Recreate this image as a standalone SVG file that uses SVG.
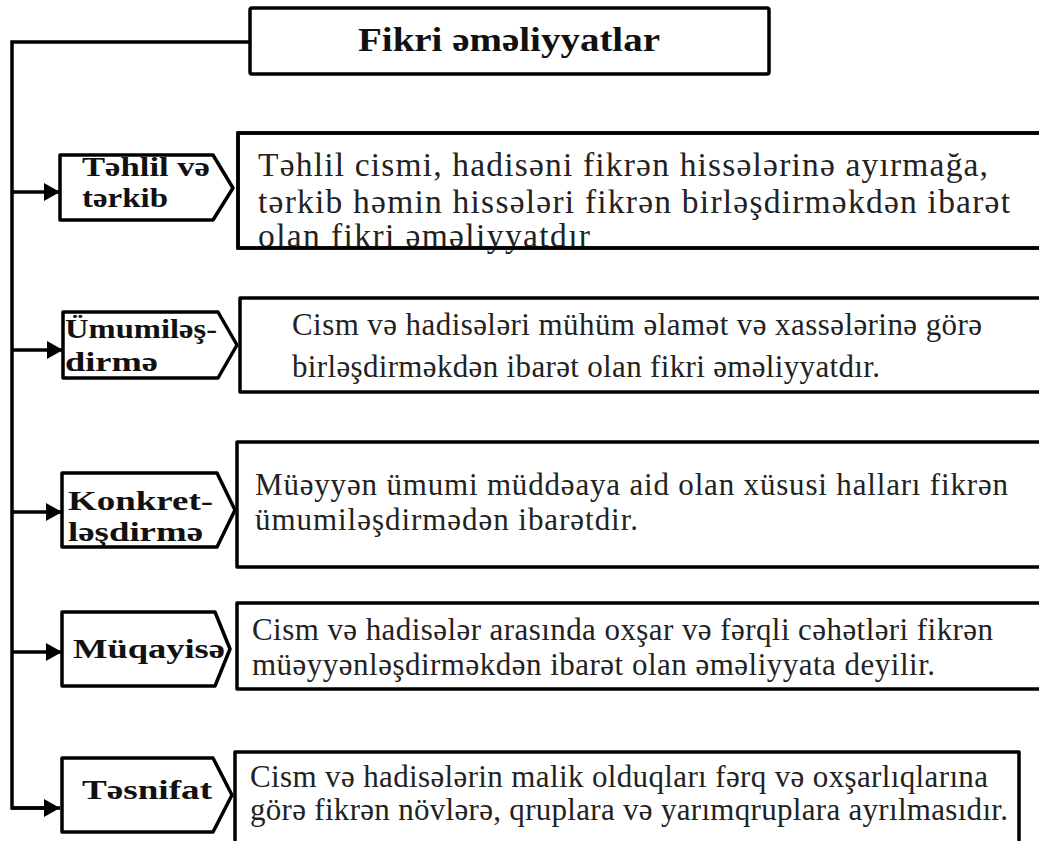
<svg xmlns="http://www.w3.org/2000/svg" width="1039" height="841" viewBox="0 0 1039 841">
<defs>
<marker id="ah" markerUnits="userSpaceOnUse" markerWidth="16" markerHeight="18" refX="16" refY="9" orient="auto">
<path d="M0,0 L16,9 L0,18 Z" fill="#000"/>
</marker>
<style>
.box{fill:#fff;stroke:#000;stroke-width:3.5;stroke-linejoin:round}
.edge{fill:none;stroke:#000;stroke-width:3.5}
.lbl{font-family:"Liberation Serif","Times New Roman",serif;font-weight:bold;font-size:28px;fill:#111}
.txt{font-family:"Liberation Serif","Times New Roman",serif;font-size:31px;fill:#222}
.big{font-size:33.5px}
.ttl{font-family:"Liberation Serif","Times New Roman",serif;font-weight:bold;font-size:34px;fill:#111}
.con{fill:none;stroke:#000;stroke-width:3.5}
</style>
</defs>
<rect width="1039" height="841" fill="#fff"/>
<g id="connectors">
<path class="con" d="M250,42 H12 V808 H46"/>
<line class="con" x1="12" y1="808" x2="60" y2="808" marker-end="url(#ah)"/>
<line class="con" x1="12" y1="192" x2="60" y2="192" marker-end="url(#ah)"/>
<line class="con" x1="12" y1="350" x2="63" y2="350" marker-end="url(#ah)"/>
<line class="con" x1="12" y1="512" x2="62" y2="512" marker-end="url(#ah)"/>
<line class="con" x1="12" y1="652" x2="62" y2="652" marker-end="url(#ah)"/>
</g>
<g id="title">
<rect class="box" x="250" y="8" width="519" height="66" rx="2"/>
<text class="ttl" x="358" y="51" textLength="302" lengthAdjust="spacingAndGlyphs">Fikri əməliyyatlar</text>
</g>
<g id="n1">
<path class="box" d="M60,155 H213 L233,188 L213,220 H60 Z"/>
<text class="lbl" x="82" y="176" textLength="128" lengthAdjust="spacingAndGlyphs">Təhlil və</text>
<text class="lbl" x="82" y="207" textLength="86" lengthAdjust="spacingAndGlyphs">tərkib</text>
</g>
<g id="d1">
<rect class="box" x="238" y="133" width="820" height="115"/>
<text class="txt big" x="258" y="176" textLength="730">Təhlil cismi, hadisəni fikrən hissələrinə ayırmağa,</text>
<text class="txt big" x="258" y="213" textLength="752">tərkib həmin hissələri fikrən birləşdirməkdən ibarət</text>
<text class="txt big" x="258" y="247" textLength="332">olan fikri əməliyyatdır</text>
<rect class="edge" x="238" y="133" width="820" height="115"/>
</g>
<g id="n2">
<path class="box" d="M63,312 H218 L237,345 L218,378 H63 Z"/>
<text class="lbl" x="65" y="338" textLength="152" lengthAdjust="spacingAndGlyphs">Ümumiləş-</text>
<text class="lbl" x="65" y="371" textLength="93" lengthAdjust="spacingAndGlyphs">dirmə</text>
</g>
<g id="d2">
<rect class="box" x="240" y="298" width="820" height="94"/>
<text class="txt" x="292" y="335" textLength="690">Cism və hadisələri mühüm əlamət və xassələrinə görə</text>
<text class="txt" x="292" y="377" textLength="588">birləşdirməkdən ibarət olan fikri əməliyyatdır.</text>
</g>
<g id="n3">
<path class="box" d="M62,473 H217 L235,510 L217,547 H62 Z"/>
<text class="lbl" x="68" y="510" textLength="145" lengthAdjust="spacingAndGlyphs">Konkret-</text>
<text class="lbl" x="68" y="541" textLength="135" lengthAdjust="spacingAndGlyphs">ləşdirmə</text>
</g>
<g id="d3">
<rect class="box" x="237" y="442" width="820" height="125"/>
<text class="txt" x="255" y="495" textLength="753">Müəyyən ümumi müddəaya aid olan xüsusi halları fikrən</text>
<text class="txt" x="255" y="530" textLength="383">ümumiləşdirmədən ibarətdir.</text>
</g>
<g id="n4">
<path class="box" d="M62,612 H215 L230,649 L215,686 H62 Z"/>
<text class="lbl" x="73" y="658" textLength="152" lengthAdjust="spacingAndGlyphs">Müqayisə</text>
</g>
<g id="d4">
<rect class="box" x="237" y="603" width="820" height="86"/>
<text class="txt" x="252" y="640" textLength="741">Cism və hadisələr arasında oxşar və fərqli cəhətləri fikrən</text>
<text class="txt" x="252" y="675" textLength="683">müəyyənləşdirməkdən ibarət olan əməliyyata deyilir.</text>
</g>
<g id="n5">
<path class="box" d="M62,758 H213 L232,795 L213,832 H62 Z"/>
<text class="lbl" x="82" y="799" textLength="130" lengthAdjust="spacingAndGlyphs">Təsnifat</text>
</g>
<g id="d5">
<rect class="box" x="235" y="752" width="784" height="110"/>
<text class="txt" x="250" y="787" textLength="738">Cism və hadisələrin malik olduqları fərq və oxşarlıqlarına</text>
<text class="txt" x="250" y="820" textLength="758">görə fikrən növlərə, qruplara və yarımqruplara ayrılmasıdır.</text>
</g>
</svg>
